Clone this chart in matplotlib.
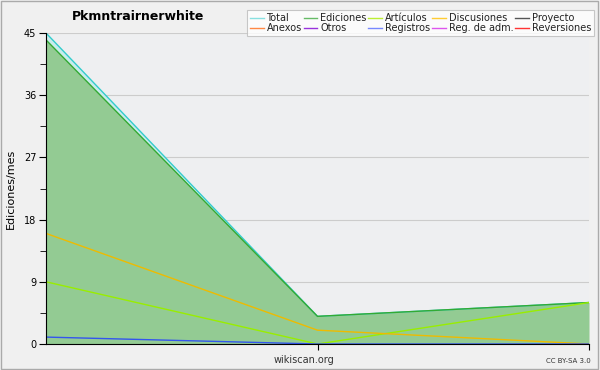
import numpy as np
import matplotlib.pyplot as plt
from matplotlib.lines import Line2D

# monthly edits, three months
months = [0, 1, 2]
total = [45, 4, 6]
ediciones = [44, 4, 6]
articulos = [9, 0, 6]
discusiones = [16, 2, 0]
registros = [1, 0, 0]

legend_names = ['Total', 'Ediciones', 'Artículos', 'Discusiones', 'Proyecto',
                'Anexos', 'Otros', 'Registros', 'Reg. de adm.', 'Reversiones']
legend_colors = ['#88e0e0', '#66bb66', '#bbee33', '#ffcc33', '#555555',
                 '#ff8844', '#9933dd', '#7788ff', '#dd55ee', '#ff3333']

fig = plt.figure(figsize=(6, 3.7), dpi=100, facecolor='#f0f0f0')
ax = fig.add_axes([46/600, 26/370, 543/600, 311/370])
ax.set_facecolor('#eeeff1')

ax.fill_between(months, ediciones, total, color='#c8ecec', lw=0)
ax.fill_between(months, 0, ediciones, color='#93cb93', lw=0)
ax.plot(months, total, color='#33cccc', lw=1)
ax.plot(months, ediciones, color='#33aa33', lw=1)
ax.plot(months, articulos, color='#99ee00', lw=1)
ax.plot(months, discusiones, color='#eebb00', lw=1)
ax.plot(months, registros, color='#3355ee', lw=1)

ax.set_xlim(0, 2)
ax.set_ylim(0, 45)
ax.set_yticks([0, 9, 18, 27, 36, 45])
ax.set_yticks(np.arange(0, 45, 4.5), minor=True)
ax.set_xticks([1, 2])
ax.set_xticklabels([])
ax.grid(axis='y', color='#cccccc', lw=0.8)
ax.set_axisbelow(True)
for s in ['top', 'right']:
    ax.spines[s].set_visible(False)
ax.tick_params(axis='y', labelsize=7, length=5, direction='out', pad=2)
ax.tick_params(axis='y', which='minor', length=4)
ax.tick_params(axis='x', length=4, direction='out')
ax.set_ylabel('Ediciones/mes', fontsize=8, labelpad=6)

fig.text(138/600, 1 - 17/370, 'Pkmntrairnerwhite', fontsize=9, fontweight='bold', ha='center', va='center')
fig.text(304/600, 1 - 360/370, 'wikiscan.org', fontsize=7, ha='center', va='center', color='#333333')
fig.text(568/600, 1 - 361/370, 'CC BY-SA 3.0', fontsize=5, ha='center', va='center', color='#333333')

handles = [Line2D([], [], color=c, lw=1) for c in legend_colors]
order = [0, 5, 1, 6, 2, 7, 3, 8, 4, 9]
leg = fig.legend([handles[i] for i in order], [legend_names[i] for i in order],
                 ncol=5, loc='upper right', bbox_to_anchor=(594/600, 1 - 10/370),
                 fontsize=7, frameon=True, fancybox=False, handlelength=1.4,
                 handletextpad=0.3, columnspacing=0.2, labelspacing=0.05,
                 borderpad=0.3, borderaxespad=0)
leg.get_frame().set_edgecolor('#bbbbbb')
leg.get_frame().set_linewidth(0.8)
for t in leg.get_texts():
    t.set_color('#222222')

fig.patches.append(plt.Rectangle((0.002, 0.003), 0.995, 0.993, transform=fig.transFigure,
                                 fill=False, ec='#aaaaaa', lw=1))

fig.savefig('out.png', dpi=100, facecolor=fig.get_facecolor())
